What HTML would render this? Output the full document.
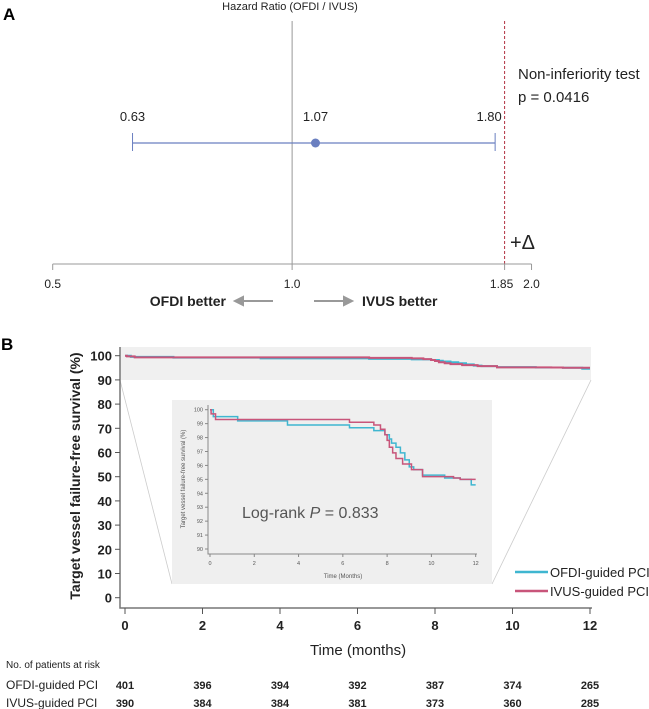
<!DOCTYPE html>
<html><head><meta charset="utf-8"><style>
body{margin:0;background:#fff;}
svg{display:block;font-family:"Liberation Sans",sans-serif;}
</style></head><body>
<svg id="fig" width="649" height="709" viewBox="0 0 649 709">
</svg>
<script>
// Panel A data
const hrLabels = ["0.63","1.07","1.80"];
const hrValues = [0.63, 1.07, 1.80];
const hrAxisTicks = [0.5, 1.0, 1.85, 2.0];
const hrAxisLabels = ["0.5","1.0","1.85","2.0"];
const niMargin = 1.85;
// Panel B data
const timeTicks = [0,2,4,6,8,10,12];
const survTicks = [0,10,20,30,40,50,60,70,80,90,100];
const insetSurvTicks = [90,91,92,93,94,95,96,97,98,99,100];
const ofdiTimes = [0,0.15,1.25,3.5,6.3,7.4,7.9,8.1,8.2,8.4,8.6,8.8,9.0,9.2,9.6,10.6,11.3,11.8,12];
const ofdiSurv  = [100,99.5,99.2,98.9,98.7,98.5,98.2,97.9,97.6,97.3,96.9,96.4,95.9,95.7,95.3,95.1,95.0,94.6,94.6];
const ivusTimes = [0,0.05,0.25,6.3,7.4,7.7,7.9,8.0,8.1,8.25,8.4,8.7,9.1,9.6,11.0,11.3,12];
const ivusSurv  = [100,99.7,99.3,99.1,98.9,98.6,98.2,97.8,97.3,96.9,96.5,96.1,95.7,95.2,95.1,95.0,95.0];
const riskOfdi = [401,396,394,392,387,374,265];
const riskIvus = [390,384,384,381,373,360,285];

const NS="http://www.w3.org/2000/svg";
const svg=document.getElementById('fig');
function el(tag,attrs,parent,text){const e=document.createElementNS(NS,tag);for(const k in attrs)e.setAttribute(k,attrs[k]);if(text!==undefined)e.textContent=text;(parent||svg).appendChild(e);return e;}

// ---- Panel A ----
const hx=v=>52.7+Math.log(v/0.5)*345.4;
let t=el('text',{x:3,y:20,'font-size':17,'font-weight':'bold'},svg,'A');

t=el('text',{x:290,y:10,'font-size':11,'text-anchor':'middle',fill:'#222'},svg,'Hazard Ratio (OFDI / IVUS)');

let l=el('line',{x1:hx(1),x2:hx(1),y1:21,y2:264,stroke:'#999','stroke-width':1});

l=el('line',{x1:hx(niMargin),x2:hx(niMargin),y1:21,y2:264,stroke:'#b03040','stroke-width':1,'stroke-dasharray':'3,2'});

l=el('line',{x1:hx(0.5),x2:hx(2),y1:264,y2:264,stroke:'#999','stroke-width':1});

hrAxisTicks.forEach((v,i)=>{
  const k=el('line',{x1:hx(v),x2:hx(v),y1:264,y2:270,stroke:'#999'});
  
  const tx=el('text',{x:hx(v)+(v===1.85?-3:0),y:288,'font-size':12,'text-anchor':'middle',fill:'#222'},svg,hrAxisLabels[i]);
  
});
l=el('line',{x1:hx(hrValues[0]),x2:hx(hrValues[2]),y1:143,y2:143,stroke:'#6a7fc0','stroke-width':1.2});

[0,2].forEach(i=>{const c=el('line',{x1:hx(hrValues[i]),x2:hx(hrValues[i]),y1:133,y2:151,stroke:'#6a7fc0','stroke-width':1});
});
let c=el('circle',{cx:hx(hrValues[1]),cy:143,r:4.5,fill:'#6a7fc0'});

hrValues.forEach((v,i)=>{const tx=el('text',{x:hx(v)-(i===2?6:0),y:121,'font-size':13,'text-anchor':'middle',fill:'#222'},svg,hrLabels[i]);
});
t=el('text',{x:518,y:79,'font-size':15,fill:'#222'},svg,'Non-inferiority test');

t=el('text',{x:518,y:102,'font-size':15,fill:'#222'},svg,'p = 0.0416');

t=el('text',{x:510,y:249,'font-size':20,fill:'#222'},svg,'+Δ');

t=el('text',{x:226,y:306,'font-size':14,'font-weight':'bold','text-anchor':'end',fill:'#222'},svg,'OFDI better');

t=el('text',{x:362,y:306,'font-size':14,'font-weight':'bold',fill:'#222'},svg,'IVUS better');

let a=el('path',{d:'M273 301 H242 M235 301 L243 297 L243 305 Z',stroke:'#999','stroke-width':2,fill:'#999'});

a=el('path',{d:'M314 301 H345 M352 301 L344 297 L344 305 Z',stroke:'#999','stroke-width':2,fill:'#999'});


// ---- Panel B ----
const mx=m=>125+m*38.75;
const my=s=>597.7-s*2.42;
t=el('text',{x:1,y:350,'font-size':17,'font-weight':'bold'},svg,'B');

let r=el('rect',{x:120,y:347,width:471,height:33,fill:'#f0f0f0'});

let p=el('path',{d:'M120 380 L172 584 M591 380 L492 584',stroke:'#ccc','stroke-width':0.8,fill:'none'});

r=el('rect',{x:172,y:400,width:320,height:184,fill:'#efefef'});

l=el('path',{d:'M120 347 V608 H592',stroke:'#777','stroke-width':1.5,fill:'none'});

survTicks.forEach(s=>{
  const k=el('line',{x1:115,x2:120,y1:my(s),y2:my(s),stroke:'#555'});
  
  const tx=el('text',{x:112,y:my(s)+5,'font-size':13,'font-weight':'bold','text-anchor':'end',fill:'#222'},svg,String(s));
  
});
timeTicks.forEach(m=>{
  const k=el('line',{x1:mx(m),x2:mx(m),y1:608,y2:614,stroke:'#555'});
  
  const tx=el('text',{x:mx(m),y:630,'font-size':13,'font-weight':'bold','text-anchor':'middle',fill:'#222'},svg,String(m));
  
});
t=el('text',{x:358,y:655,'font-size':15,'text-anchor':'middle',fill:'#222'},svg,'Time (months)');

t=el('text',{x:0,y:0,'font-size':14,'font-weight':'bold','text-anchor':'middle',fill:'#222',transform:'translate(80,476) rotate(-90)'},svg,'Target vessel failure-free survival (%)');


function stepPath(ts,ss,fx,fy){let d='M'+fx(ts[0])+' '+fy(ss[0]);for(let i=1;i<ts.length;i++){d+=' H'+fx(ts[i])+' V'+fy(ss[i]);}return d;}
p=el('path',{d:stepPath(ofdiTimes,ofdiSurv,mx,my),stroke:'#3fb6d0','stroke-width':2,fill:'none'});

p=el('path',{d:stepPath(ivusTimes,ivusSurv,mx,my),stroke:'#c8557a','stroke-width':2,fill:'none'});


// inset
const ix=m=>210+m*22.14;
const iy=s=>549-(s-90)*13.93;
l=el('path',{d:'M208 405 V554 H477',stroke:'#888','stroke-width':1,fill:'none'});

insetSurvTicks.forEach(s=>{
  const k=el('line',{x1:205,x2:208,y1:iy(s),y2:iy(s),stroke:'#888'});
  
  const tx=el('text',{x:203,y:iy(s)+2,'font-size':5.5,'text-anchor':'end',fill:'#555'},svg,String(s));
  
});
timeTicks.forEach(m=>{
  const k=el('line',{x1:ix(m),x2:ix(m),y1:554,y2:557,stroke:'#888'});
  
  const tx=el('text',{x:ix(m),y:565,'font-size':5.5,'text-anchor':'middle',fill:'#555'},svg,String(m));
  
});
t=el('text',{x:343,y:578,'font-size':6,'text-anchor':'middle',fill:'#555'},svg,'Time (Months)');

t=el('text',{x:0,y:0,'font-size':6,'text-anchor':'middle',fill:'#555',transform:'translate(185,479) rotate(-90)'},svg,'Target vessel failure-free survival (%)');

p=el('path',{d:stepPath(ofdiTimes,ofdiSurv,ix,iy),stroke:'#3fb6d0','stroke-width':1.5,fill:'none'});

p=el('path',{d:stepPath(ivusTimes,ivusSurv,ix,iy),stroke:'#c8557a','stroke-width':1.5,fill:'none'});

t=el('text',{x:242,y:518,'font-size':16,fill:'#555'},svg);

t.innerHTML='Log-rank <tspan font-style="italic">P</tspan> = 0.833';

// legend
l=el('line',{x1:515,x2:548,y1:572,y2:572,stroke:'#3fb6d0','stroke-width':2.5});

t=el('text',{x:550,y:577,'font-size':13,fill:'#222'},svg,'OFDI-guided PCI');

l=el('line',{x1:515,x2:548,y1:591,y2:591,stroke:'#c8557a','stroke-width':2.5});

t=el('text',{x:550,y:596,'font-size':13,fill:'#222'},svg,'IVUS-guided PCI');


// risk table
t=el('text',{x:6,y:668,'font-size':10,fill:'#222'},svg,'No. of patients at risk');

t=el('text',{x:6,y:689,'font-size':12,fill:'#222'},svg,'OFDI-guided PCI');

t=el('text',{x:6,y:707,'font-size':12,fill:'#222'},svg,'IVUS-guided PCI');

timeTicks.forEach((m,i)=>{
  const a1=el('text',{x:mx(m),y:689,'font-size':11,'font-weight':'bold','text-anchor':'middle',fill:'#222'},svg,String(riskOfdi[i]));
  
  const a2=el('text',{x:mx(m),y:707,'font-size':11,'font-weight':'bold','text-anchor':'middle',fill:'#222'},svg,String(riskIvus[i]));
  
});
</script>
</body></html>
